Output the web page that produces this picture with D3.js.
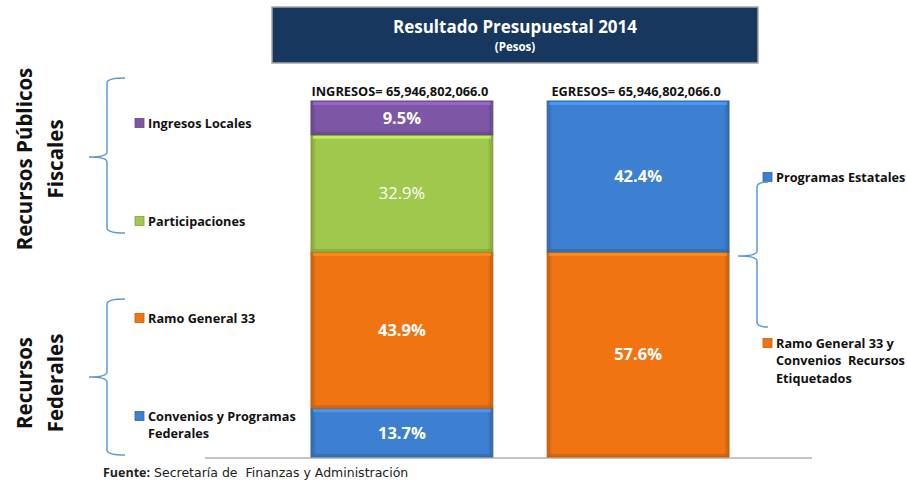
<!DOCTYPE html>
<html>
<head>
<meta charset="utf-8">
<script src="https://cdn.jsdelivr.net/npm/d3@7"></script>
<style>
  body { margin: 0; background: #fff; }
  svg { font-family: "Open Sans", Lato, sans-serif; }
</style>
</head>
<body>
<div id="container"></div>
<script>
/* CONSTANTS AND GLOBALS */
const width = 907;
const height = 483;

/* DATA */
const categories = ["INGRESOS", "EGRESOS"];
const totals = ["65,946,802,066.0", "65,946,802,066.0"];
// stacked from bottom to top
const ingresosNames = ["Convenios y Programas Federales", "Ramo General 33", "Participaciones", "Ingresos Locales"];
const ingresosValues = [13.7, 43.9, 32.9, 9.5];
const egresosNames = ["Ramo General 33 y Convenios Recursos Etiquetados", "Programas Estatales"];
const egresosValues = [57.6, 42.4];

const colors = {
  "Convenios y Programas Federales": "#3d7fd0",
  "Ramo General 33": "#f07512",
  "Participaciones": "#a0c84c",
  "Ingresos Locales": "#7d57a6",
  "Ramo General 33 y Convenios Recursos Etiquetados": "#f07512",
  "Programas Estatales": "#3d7fd0"
};
const darker = c => d3.color(c).darker(0.6).formatHex();
const lighter = c => d3.color(c).brighter(0.6).formatHex();

/* SCALES */
const xScale = d3.scaleBand()
  .domain(categories)
  .range([311, 729])
  .paddingInner(0.23)
  .paddingOuter(0);

const yScale = d3.scaleLinear()
  .domain([0, 100])
  .range([457, 101]);

/* SVG */
const svg = d3.select("#container")
  .append("svg")
  .attr("width", width)
  .attr("height", height);

// title box
svg.append("rect")
  .attr("x", 272).attr("y", 7)
  .attr("width", 486).attr("height", 56)
  .attr("fill", "#17375e")
  .attr("stroke", "#a6a6a6")
  .attr("stroke-width", 1.5);
svg.append("text")
  .attr("x", 515).attr("y", 33)
  .attr("text-anchor", "middle")
  .attr("fill", "white")
  .attr("font-weight", "bold")
  .attr("font-size", 17)
  .text("Resultado Presupuestal 2014");
svg.append("text")
  .attr("x", 515).attr("y", 51)
  .attr("text-anchor", "middle")
  .attr("fill", "white")
  .attr("font-weight", "bold")
  .attr("font-size", 11.5)
  .text("(Pesos)");

// baseline
svg.append("line")
  .attr("x1", 205).attr("x2", 812)
  .attr("y1", yScale(0) + 1).attr("y2", yScale(0) + 1)
  .attr("stroke", "#8c8c8c")
  .attr("stroke-width", 1.2);

// build segments
function segments(names, values) {
  let acc = 0;
  return names.map((n, i) => {
    const s = { name: n, value: values[i], y0: acc, y1: acc + values[i] };
    acc += values[i];
    return s;
  });
}
const stacks = [
  { cat: "INGRESOS", segs: segments(ingresosNames, ingresosValues) },
  { cat: "EGRESOS", segs: segments(egresosNames, egresosValues) }
];

const defs = svg.append("defs");
Object.entries(colors).forEach(([name, c], i) => {
  const g = defs.append("linearGradient")
    .attr("id", "grad" + i)
    .attr("x1", 0).attr("x2", 1).attr("y1", 0).attr("y2", 0);
  g.append("stop").attr("offset", "0%").attr("stop-color", darker(c));
  g.append("stop").attr("offset", "3%").attr("stop-color", c);
  g.append("stop").attr("offset", "97%").attr("stop-color", c);
  g.append("stop").attr("offset", "100%").attr("stop-color", darker(c));
});
const gradId = name => "url(#grad" + Object.keys(colors).indexOf(name) + ")";

stacks.forEach((st, k) => {
  const g = svg.append("g").attr("class", "stack");
  const x = xScale(st.cat);
  const bw = xScale.bandwidth();

  g.selectAll("rect.bar")
    .data(st.segs)
    .join("rect")
    .attr("class", "bar")
    .attr("x", x)
    .attr("y", d => yScale(d.y1))
    .attr("width", bw)
    .attr("height", d => yScale(d.y0) - yScale(d.y1))
    .attr("fill", d => gradId(d.name))
    .attr("stroke", d => darker(colors[d.name]))
    .attr("stroke-width", 1);

  // top highlight
  g.selectAll("rect.hl")
    .data(st.segs)
    .join("rect")
    .attr("class", "hl")
    .attr("x", x + 2)
    .attr("y", d => yScale(d.y1) + 1)
    .attr("width", bw - 4)
    .attr("height", 3)
    .attr("fill", d => lighter(colors[d.name]))
    .attr("opacity", 0.8);

  // bottom shade
  g.selectAll("rect.sh")
    .data(st.segs)
    .join("rect")
    .attr("class", "sh")
    .attr("x", x + 1)
    .attr("y", d => yScale(d.y0) - 3)
    .attr("width", bw - 2)
    .attr("height", 3)
    .attr("fill", d => darker(colors[d.name]))
    .attr("opacity", 0.6);

  // percent labels
  g.selectAll("text.pct")
    .data(st.segs)
    .join("text")
    .attr("class", "pct")
    .attr("x", x + bw / 2)
    .attr("y", d => (yScale(d.y0) + yScale(d.y1)) / 2 + 6)
    .attr("text-anchor", "middle")
    .attr("fill", "white")
    .attr("font-size", 16.5)
    .attr("font-weight", d => d.name === "Participaciones" ? "normal" : "bold")
    .text(d => d.value.toFixed(1) + "%");

  // header
  svg.append("text")
    .attr("x", x + bw / 2 - 2)
    .attr("y", 96)
    .attr("text-anchor", "middle")
    .attr("font-size", 12.8)
    .attr("font-weight", "bold")
    .attr("fill", "#111")
    .text(st.cat + "= " + totals[k]);
});

/* LEGENDS */
const legendLeft = [
  { name: "Ingresos Locales", lines: ["Ingresos Locales"], y: 123 },
  { name: "Participaciones", lines: ["Participaciones"], y: 221 },
  { name: "Ramo General 33", lines: ["Ramo General 33"], y: 318 },
  { name: "Convenios y Programas Federales", lines: ["Convenios y Programas", "Federales"], y: 416 }
];
const legendRight = [
  { name: "Programas Estatales", lines: ["Programas Estatales"], y: 177 },
  { name: "Ramo General 33 y Convenios Recursos Etiquetados", lines: ["Ramo General 33 y", "Convenios  Recursos", "Etiquetados"], y: 343 }
];

function drawLegend(items, mx) {
  items.forEach(it => {
    const c = colors[it.name];
    svg.append("rect")
      .attr("x", mx).attr("y", it.y - 4.5)
      .attr("width", 9).attr("height", 9)
      .attr("fill", c)
      .attr("stroke", darker(c))
      .attr("stroke-width", 0.8);
    const t = svg.append("text")
      .attr("x", mx + 13).attr("y", it.y + 4.5)
      .attr("font-size", 12.7)
      .attr("font-weight", "bold")
      .attr("fill", "#111")
      .style("white-space", "pre");
    it.lines.forEach((l, i) => {
      t.append("tspan").attr("x", mx + 13).attr("dy", i === 0 ? 0 : 17.5).text(l);
    });
  });
}
drawLegend(legendLeft, 135);
drawLegend(legendRight, 763);

/* BRACES */
function brace(xTip, xStem, xEnd, yTop, yMid, yBot) {
  const r = 5;
  const p = d3.path();
  p.moveTo(xEnd, yTop);
  p.quadraticCurveTo(xStem, yTop, xStem, yTop + r);
  p.lineTo(xStem, yMid - r);
  p.quadraticCurveTo(xStem, yMid, xTip, yMid);
  p.moveTo(xTip, yMid);
  p.quadraticCurveTo(xStem, yMid, xStem, yMid + r);
  p.lineTo(xStem, yBot - r);
  p.quadraticCurveTo(xStem, yBot, xEnd, yBot);
  svg.append("path")
    .attr("d", p.toString())
    .attr("fill", "none")
    .attr("stroke", "#5b9bd5")
    .attr("stroke-width", 1.5);
}
brace(89, 107, 125, 78, 157, 233);
brace(89, 107, 125, 299, 377, 455);
brace(738, 757, 768, 182, 256, 327);

/* GROUP LABELS */
function groupLabel(lines, xs, yc) {
  lines.forEach((l, i) => {
    svg.append("text")
      .attr("transform", `translate(${xs[i]},${yc}) rotate(-90)`)
      .attr("text-anchor", "middle")
      .attr("font-size", 20.5)
      .attr("font-weight", "bold")
      .attr("fill", "#111")
      .text(l);
  });
}
groupLabel(["Recursos Públicos", "Fiscales"], [32, 63], 159);
groupLabel(["Recursos", "Federales"], [32, 63], 383);

/* SOURCE */
const src = svg.append("text")
  .attr("x", 103).attr("y", 477)
  .attr("font-size", 12.5)
  .attr("fill", "#222")
  .style("white-space", "pre");
src.append("tspan").attr("font-weight", "bold").text("Fuente:");
src.append("tspan").attr("font-family", "'DejaVu Sans', sans-serif").attr("font-size", 12.5)
  .text(" Secretaría de  Finanzas y Administración");
</script>
</body>
</html>
